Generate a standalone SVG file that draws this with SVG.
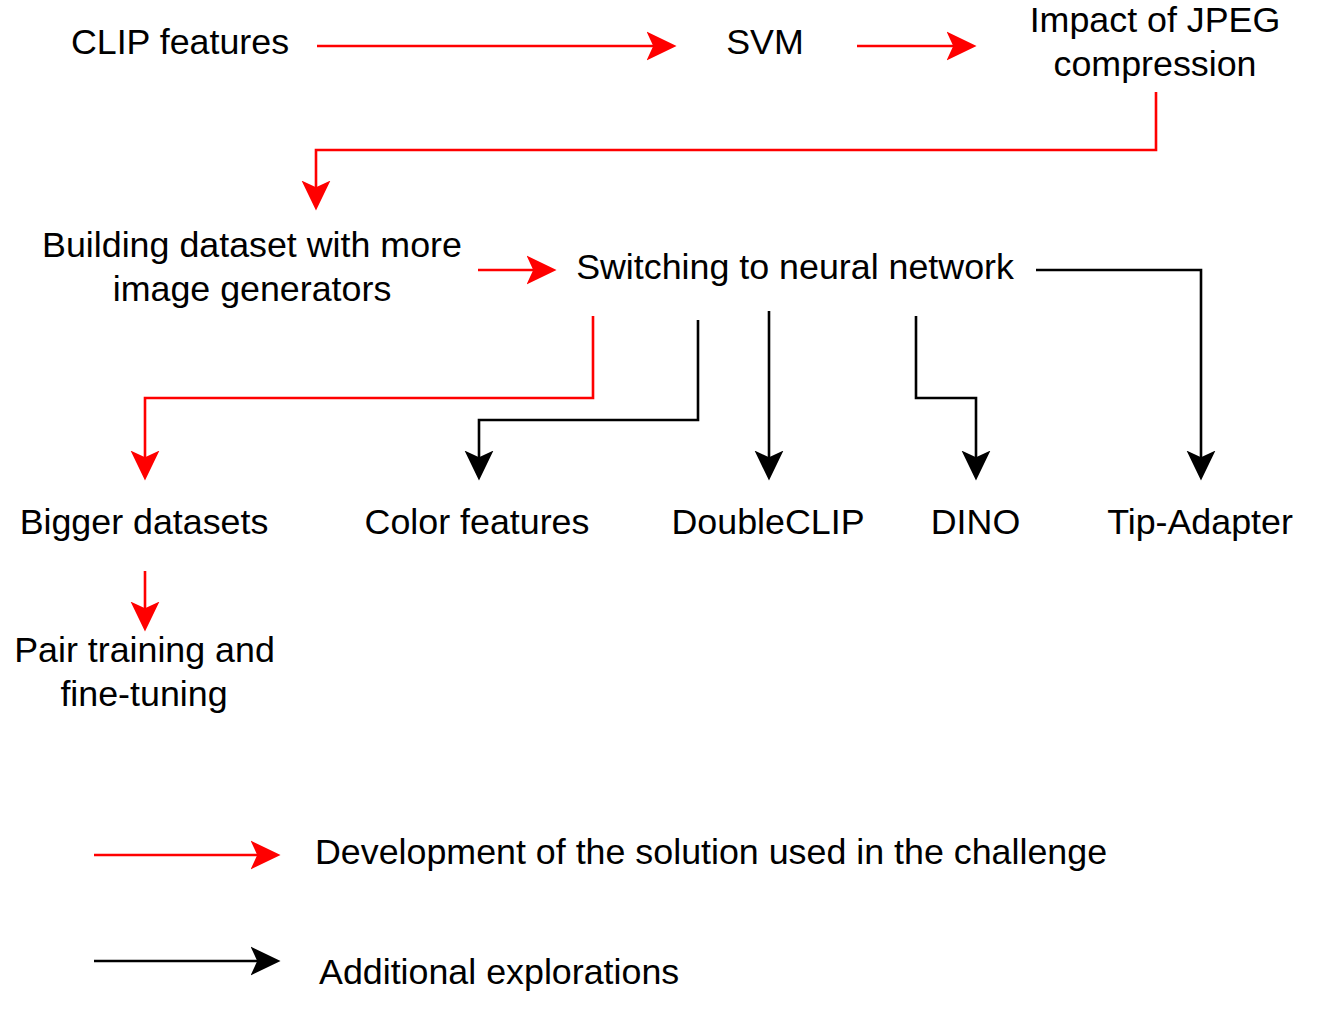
<svg xmlns="http://www.w3.org/2000/svg" width="1335" height="1020" viewBox="0 0 1335 1020">
<style>
text{font-family:"Liberation Sans",Arial,Helvetica,sans-serif;font-size:35.8px;fill:#000}
.c{text-anchor:middle}
.r{fill:none;stroke:#ff0000;stroke-width:2.6}
.k{fill:none;stroke:#000;stroke-width:2.6}
</style>
<defs>
<marker id="ar" markerUnits="userSpaceOnUse" markerWidth="30" markerHeight="30" refX="22" refY="13" orient="auto" viewBox="0 0 27 26">
<path d="M0,0 L27,13 L0,26 L6,13 Z" fill="#ff0000"/>
</marker>
<marker id="ak" markerUnits="userSpaceOnUse" markerWidth="30" markerHeight="30" refX="22" refY="13" orient="auto" viewBox="0 0 27 26">
<path d="M0,0 L27,13 L0,26 L6,13 Z" fill="#000"/>
</marker>
</defs>
<rect width="1335" height="1020" fill="#fff"/>
<g id="connectors">
<path class="r" d="M317,46 H671" marker-end="url(#ar)"/>
<path class="r" d="M857,46 H971" marker-end="url(#ar)"/>
<path class="r" d="M1156,92 V150 H316 V205" marker-end="url(#ar)"/>
<path class="r" d="M478,270 H551" marker-end="url(#ar)"/>
<path class="r" d="M593,316 V398 H145 V475" marker-end="url(#ar)"/>
<path class="k" d="M698,320 V420 H479 V475" marker-end="url(#ak)"/>
<path class="k" d="M769,311 V475" marker-end="url(#ak)"/>
<path class="k" d="M916,316 V398 H976 V475" marker-end="url(#ak)"/>
<path class="k" d="M1036,270 H1201 V475" marker-end="url(#ak)"/>
<path class="r" d="M145,571 V626" marker-end="url(#ar)"/>
<path class="r" d="M94,855 H275" marker-end="url(#ar)"/>
<path class="k" d="M94,961 H275" marker-end="url(#ak)"/>
</g>
<g id="clip"><text class="c" x="180" y="54">CLIP features</text></g>
<g id="svm"><text class="c" x="765" y="54">SVM</text></g>
<g id="jpeg"><text class="c" x="1155" y="32">Impact of JPEG</text><text class="c" x="1155" y="76">compression</text></g>
<g id="building"><text class="c" x="252" y="257">Building dataset with more</text><text class="c" x="252" y="301">image generators</text></g>
<g id="switching"><text class="c" x="795" y="279">Switching to neural network</text></g>
<g id="bigger"><text class="c" x="144" y="534">Bigger datasets</text></g>
<g id="color"><text class="c" x="477" y="534">Color features</text></g>
<g id="doubleclip"><text class="c" x="768" y="534">DoubleCLIP</text></g>
<g id="dino"><text class="c" x="975.5" y="534">DINO</text></g>
<g id="tip"><text class="c" x="1200" y="534">Tip-Adapter</text></g>
<g id="pair"><text class="c" x="144.5" y="662">Pair training and</text><text class="c" x="144" y="706">fine-tuning</text></g>
<g id="legend-red"><text x="315" y="864">Development of the solution used in the challenge</text></g>
<g id="legend-black"><text x="319" y="984">Additional explorations</text></g>
</svg>
